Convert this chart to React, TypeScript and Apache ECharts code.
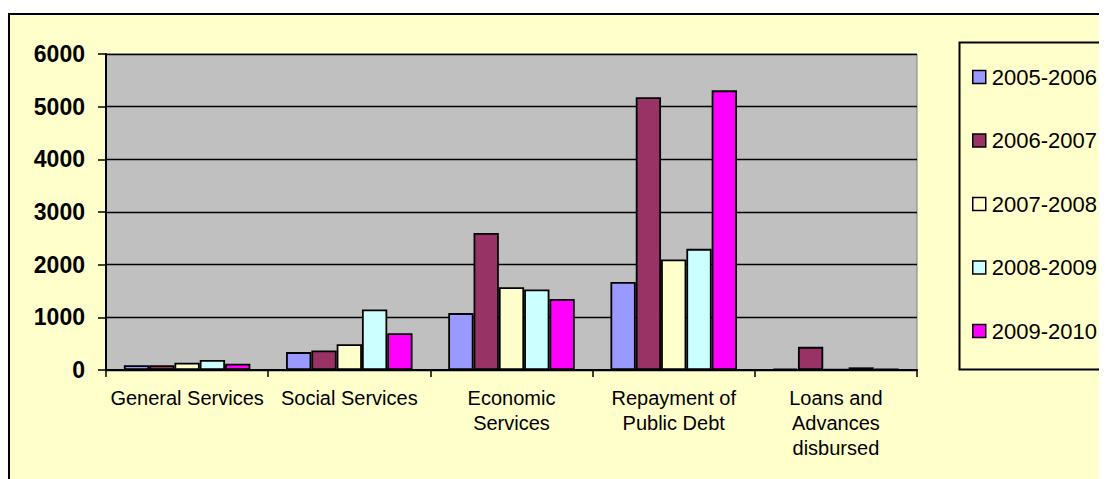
import React, { useEffect, useRef } from "react";
import * as echarts from "echarts";

const categories = [
  "General Services",
  "Social Services",
  "Economic\nServices",
  "Repayment of\nPublic Debt",
  "Loans and\nAdvances\ndisbursed",
];
const seriesNames = ["2005-2006", "2006-2007", "2007-2008", "2008-2009", "2009-2010"];
const v2005 = [90, 340, 1080, 1670, 25];
const v2006 = [90, 370, 2600, 5180, 440];
const v2007 = [140, 490, 1570, 2100, 15];
const v2008 = [190, 1150, 1530, 2300, 50];
const v2009 = [120, 700, 1350, 5310, 20];
const seriesValues = [v2005, v2006, v2007, v2008, v2009];
const colors = ["#9999FF", "#993366", "#FFFFCC", "#CCFFFF", "#FF00FF"];
const yTicks = { min: 0, max: 6000, interval: 1000 };

const FONT = "'Liberation Sans', Arial, sans-serif";

export default function App() {
  const ref = useRef<HTMLDivElement>(null);
  useEffect(() => {
    if (!ref.current) return;
    const chart = echarts.init(ref.current, null, { renderer: "svg" });
    chart.setOption({
      animation: false,
      backgroundColor: "#FFFFFF",
      textStyle: { fontFamily: FONT },
      graphic: [
        {
          type: "rect",
          z: -100,
          shape: { x: 1, y: 6, width: 1120, height: 480 },
          style: { fill: "#FFFFCC", stroke: "#000", lineWidth: 2 },
          silent: true,
        },
        {
          type: "rect",
          z: -99,
          shape: { x: 951.5, y: 34.5, width: 200, height: 327 },
          style: { fill: "#FFFFCC", stroke: "#000", lineWidth: 2 },
          silent: true,
        },
      ],
      grid: {
        left: 98,
        top: 46,
        width: 811,
        height: 316,
        show: true,
        backgroundColor: "#C0C0C0",
        borderColor: "#808080",
        borderWidth: 1,
      },
      legend: {
        orient: "vertical",
        left: 964,
        top: 57,
        padding: 0,
        itemWidth: 13,
        itemHeight: 13,
        itemGap: 39.5,
        icon: "rect",
        data: seriesNames,
        itemStyle: { borderColor: "#000", borderWidth: 1.5 },
        textStyle: { color: "#000", fontSize: 22, lineHeight: 24, fontFamily: FONT, padding: [0, 0, 0, 1] },
      },
      xAxis: {
        type: "category",
        data: categories,
        axisLine: { show: true, lineStyle: { color: "#000", width: 2 } },
        axisTick: { show: true, length: 7, alignWithLabel: false, lineStyle: { color: "#000", width: 1.5 } },
        axisLabel: {
          color: "#000",
          fontSize: 20,
          lineHeight: 25,
          margin: 15,
          interval: 0,
          fontFamily: FONT,
        },
        splitLine: { show: false },
      },
      yAxis: {
        type: "value",
        min: yTicks.min,
        max: yTicks.max,
        interval: yTicks.interval,
        axisLine: { show: true, lineStyle: { color: "#000", width: 2 } },
        axisTick: { show: true, length: 8, lineStyle: { color: "#000", width: 1.5 } },
        axisLabel: {
          color: "#000",
          fontSize: 23,
          fontWeight: "bold",
          margin: 21,
          fontFamily: FONT,
          formatter: (v: number) => String(v),
        },
        splitLine: { show: true, lineStyle: { color: "#000", width: 1.4 } },
      },
      series: seriesNames.map((name, i) => ({
        name,
        type: "bar",
        data: seriesValues[i],
        barGap: "0%",
        barCategoryGap: "22%",
        itemStyle: { color: colors[i], borderColor: "#000", borderWidth: 1.8 },
      })),
    });
    return () => chart.dispose();
  }, []);
  return <div ref={ref} style={{ width: 1099, height: 471 }} />;
}
